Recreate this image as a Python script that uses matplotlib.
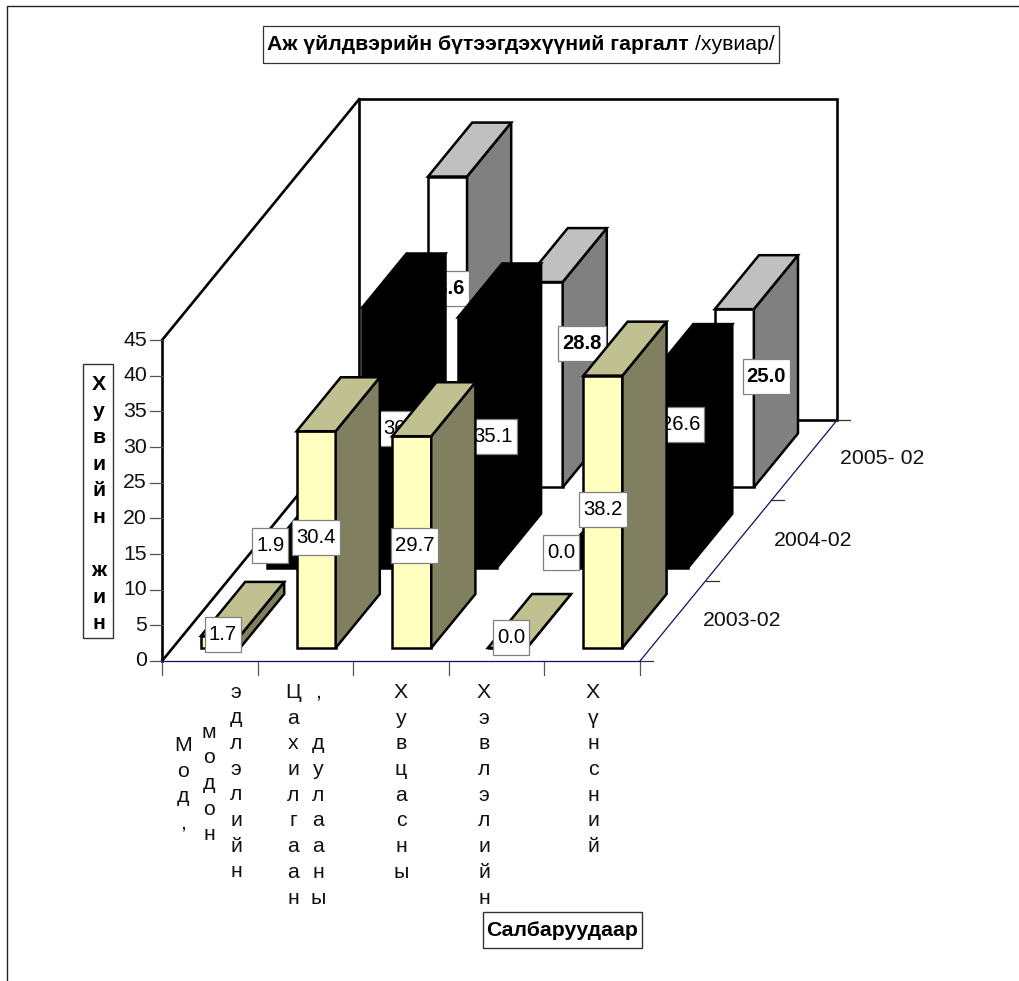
import matplotlib
matplotlib.use("Agg")
import matplotlib.pyplot as plt
from matplotlib.patches import Polygon, Rectangle

plt.rcParams["font.family"] = ["Liberation Sans", "DejaVu Sans"]

# Data
series_names = ["2003-02", "2004-02", "2005- 02"]
values_2003 = [1.7, 30.4, 29.7, 0.0, 38.2]
values_2004 = [1.9, 36.5, 35.1, 0.0, 26.6]
values_2005 = [None, 43.6, 28.8, None, 25.0]
y_ticks = [0, 5, 10, 15, 20, 25, 30, 35, 40, 45]
# category labels are stacked letter by letter, one string per column
category_columns = [
    ["Мод,", "модон", "эдлэлийн"],
    ["Цахилгаан", ", дулааны"],
    ["Хувцасны"],
    ["Хэвлэлийн"],
    ["Хүнсний"],
]
title_bold = "Аж үйлдвэрийн бүтээгдэхүүний гаргалт"
title_plain = "/хувиар/"
y_title = "Хувийн жин"
x_title = "Салбаруудаар"

# Chart geometry, in pixels of the 1019x981 picture
ORIGIN_X, ORIGIN_Y = 162, 661
CAT_W = 95.6
DEPTH_X, DEPTH_Y = 65.7, 80.3
UNIT_Y = 7.13
N_CAT, N_SER, V_MAX = 5, 3, 45
GAP, BAR_W = 0.297, 0.408
D_FRONT, D_BACK = 0.162, 0.834
FONT = 15.3

# Colours per series: front, top, side
colors = [
    ("#FFFFC0", "#C0C090", "#808060"),
    ("#000000", "#000000", "#000000"),
    ("#FFFFFF", "#C0C0C0", "#808080"),
]
bold_labels = [False, False, True]
# Data labels were moved by hand in the original: shift from the bar front centre
label_shift = [
    [(2.5, -7), (0, -2), (3, 3), (3.7, -10), (0, -2)],
    [(-16, -15), (21, -9), (16, -6), (-12, -15), (12, -48)],
    [None, (-2, -43), (39, -41), None, (32, -22)],
]
# x and first baseline of each category column
column_pos = [
    [(183, 751), (209, 737.5), (236, 697.5)],
    [(293, 698), (318, 698)],
    [(401, 698)],
    [(484, 698)],
    [(593, 698)],
]
ROW_H = 25.7
series_label_pos = [(742, 621), (813, 540), (882, 459)]


def project(x, d, v):
    """category position, depth position, value -> picture pixels"""
    return (ORIGIN_X + x * CAT_W + d * DEPTH_X, ORIGIN_Y - v * UNIT_Y - d * DEPTH_Y)


fig = plt.figure(figsize=(10.19, 9.81), dpi=100)
ax = fig.add_axes([0, 0, 1, 1])
ax.set_xlim(0, 1019)
ax.set_ylim(981, 0)
ax.axis("off")
renderer = fig.canvas.get_renderer()

# Chart area border
ax.plot([7, 7, 1019], [981, 6, 6], color="#222222", lw=1.0, zorder=1)

# Walls
wall = dict(color="black", lw=1.9, zorder=2, solid_capstyle="projecting")
back = [project(0, N_SER, 0), project(0, N_SER, V_MAX), project(N_CAT, N_SER, V_MAX), project(N_CAT, N_SER, 0)]
ax.add_patch(Polygon(back, closed=True, fill=False, ec="black", lw=1.9, zorder=2))
for p, q in [
    (project(0, 0, 0), project(0, 0, V_MAX)),
    (project(0, 0, V_MAX), project(0, N_SER, V_MAX)),
    (project(0, 0, 0), project(0, N_SER, 0)),
]:
    ax.plot([p[0], q[0]], [p[1], q[1]], **wall)

# Floor front edges
edge = dict(color="#101060", lw=0.9, zorder=3)
p, q = project(0, 0, 0), project(N_CAT, 0, 0)
ax.plot([p[0], q[0]], [p[1], q[1]], **edge)
p, q = project(N_CAT, 0, 0), project(N_CAT, N_SER, 0)
ax.plot([p[0], q[0]], [p[1], q[1]], **edge)

# Ticks and tick labels
for v in y_ticks:
    x, y = project(0, 0, v)
    ax.plot([x - 12, x], [y, y], color="#555555", lw=0.9, zorder=2)
    ax.text(x - 15, y, str(v), ha="right", va="center", fontsize=FONT, color="#111111")
for i in range(N_CAT + 1):
    x, y = project(i, 0, 0)
    ax.plot([x, x], [y, y + 14], color="#555555", lw=0.9, zorder=2)
for s in range(N_SER + 1):
    x, y = project(N_CAT, s, 0)
    ax.plot([x, x + 13], [y, y], color="#333333", lw=0.9, zorder=2)
for name, (x, y) in zip(series_names, series_label_pos):
    ax.text(x, y, name, ha="center", va="center", fontsize=FONT, color="#111111")

# Bars, back series first so the front ones hide labels behind them
all_values = [values_2003, values_2004, values_2005]
for s in reversed(range(N_SER)):
    z = 10 * (N_SER - s)
    front_c, top_c, side_c = colors[s]
    for i, v in enumerate(all_values[s]):
        if v is None:
            continue
        x0, x1 = i + GAP, i + GAP + BAR_W
        d0, d1 = s + D_FRONT, s + D_BACK
        faces = [
            (front_c, [project(x0, d0, 0), project(x1, d0, 0), project(x1, d0, v), project(x0, d0, v)]),
            (side_c, [project(x1, d0, 0), project(x1, d1, 0), project(x1, d1, v), project(x1, d0, v)]),
            (top_c, [project(x0, d0, v), project(x1, d0, v), project(x1, d1, v), project(x0, d1, v)]),
        ]
        for color, pts in faces:
            ax.add_patch(Polygon(pts, closed=True, fc=color, ec="black", lw=1.8, joinstyle="miter", zorder=z))
        cx, cy = project((x0 + x1) / 2, d0, v / 2)
        dx, dy = label_shift[s][i]
        t = ax.text(
            cx + dx, cy + dy, f"{v:.1f}", ha="center", va="center", fontsize=14.6,
            fontweight="bold" if bold_labels[s] else "normal", color="black", zorder=z + 2,
        )
        w = t.get_window_extent(renderer).width + 8
        ax.add_patch(Rectangle((cx + dx - w / 2, cy + dy - 17.5), w, 35, fc="white", ec="#808080", lw=0.9, zorder=z + 1))

# Category labels, one letter per row
for columns, positions in zip(category_columns, column_pos):
    for word, (x, y) in zip(columns, positions):
        for row, letter in enumerate(word):
            ax.text(x, y + row * ROW_H, letter, ha="center", va="baseline", fontsize=FONT, color="#111111")

# Value axis title
ax.add_patch(Rectangle((83, 364), 30, 274, fc="white", ec="#333333", lw=1.0, zorder=4))
for row, letter in enumerate(y_title):
    ax.text(99, 390 + row * 26.6, letter, ha="center", va="baseline", fontsize=FONT, fontweight="bold", color="black", zorder=5)

# Category axis title
ax.add_patch(Rectangle((483, 912), 159, 36, fc="white", ec="#333333", lw=1.0, zorder=4))
ax.text(562.5, 930, x_title, ha="center", va="center", fontsize=FONT, fontweight="bold", color="black", zorder=5)

# Chart title
ax.add_patch(Rectangle((263, 26), 516, 37, fc="white", ec="#333333", lw=0.9, zorder=4))
ax.text(267, 45, title_bold, ha="left", va="center", fontsize=FONT, fontweight="bold", color="black", zorder=5)
ax.text(775, 45, title_plain, ha="right", va="center", fontsize=FONT, color="black", zorder=5)

fig.savefig("out.png", dpi=100, facecolor="white")
